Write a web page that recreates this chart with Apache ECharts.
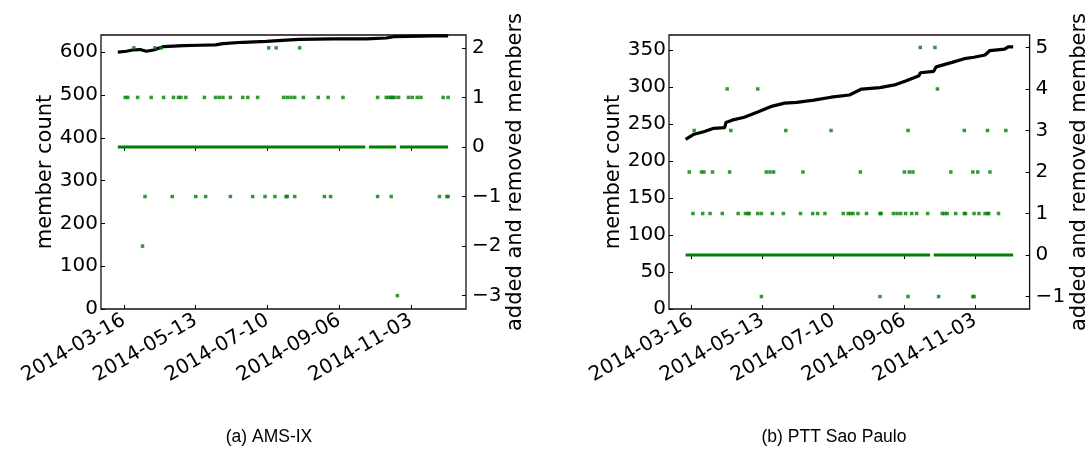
<!DOCTYPE html>
<html>
<head>
<meta charset="utf-8">
<script src="https://cdn.jsdelivr.net/npm/echarts@6/dist/echarts.min.js"></script>
<style>
  html, body { margin: 0; padding: 0; background: #fff; }
  #chart { width: 1091px; height: 460px; }
</style>
</head>
<body>
<div id="chart"></div>
<script>
// shared x range and tick labels
const xRange = ['2014-02-25 10:00', '2014-12-17 11:00'];
const tickDates = ['2014-03-16', '2014-05-13', '2014-07-10', '2014-09-06', '2014-11-03'];

// (a) AMS-IX
const amsCount = [
  ['2014-03-11', 600], ['2014-03-18', 602], ['2014-03-23', 605], ['2014-03-29', 606],
  ['2014-04-03', 602], ['2014-04-09', 605], ['2014-04-17', 613], ['2014-05-03', 615],
  ['2014-05-16', 616], ['2014-05-29', 617], ['2014-06-04', 620], ['2014-06-20', 623],
  ['2014-07-09', 625], ['2014-07-25', 628], ['2014-08-05', 630], ['2014-09-01', 631],
  ['2014-09-28', 631], ['2014-10-14', 633], ['2014-10-20', 636], ['2014-11-21', 638],
  ['2014-12-03', 638]
];
const amsZeroRuns = [['2014-03-11', '2014-09-27'], ['2014-09-30', '2014-10-22'], ['2014-10-25', '2014-12-03']];
const amsUp2 = ['2014-03-24', '2014-04-10', '2014-04-15', '2014-07-11', '2014-07-17', '2014-08-05'];
const amsUp1 = [
  '2014-03-17', '2014-03-19', '2014-03-27', '2014-04-07', '2014-04-17', '2014-04-25', '2014-04-29',
  '2014-05-01', '2014-05-05', '2014-05-20', '2014-05-29', '2014-06-01', '2014-06-04', '2014-06-10',
  '2014-06-20', '2014-06-24', '2014-07-02', '2014-07-23', '2014-07-26', '2014-07-29', '2014-08-01',
  '2014-08-08', '2014-08-20', '2014-08-28', '2014-09-09', '2014-10-07', '2014-10-14', '2014-10-16',
  '2014-10-18', '2014-10-19', '2014-10-21', '2014-10-24', '2014-11-01', '2014-11-04', '2014-11-08',
  '2014-11-11', '2014-11-29', '2014-12-03'
];
const amsDown1 = [
  '2014-04-02', '2014-04-24', '2014-05-13', '2014-05-21', '2014-06-10', '2014-06-28', '2014-07-08',
  '2014-07-16', '2014-07-25', '2014-07-26', '2014-08-01', '2014-08-25', '2014-08-30', '2014-10-07',
  '2014-10-18', '2014-11-26', '2014-12-02', '2014-12-03'
];
const amsDown2 = ['2014-03-31'];
const amsDown3 = ['2014-10-23'];

// (b) PTT Sao Paulo
const pttCount = [
  ['2014-03-11', 229], ['2014-03-18', 236], ['2014-03-25', 239], ['2014-03-27', 240],
  ['2014-04-03', 244], ['2014-04-12', 245], ['2014-04-13', 252], ['2014-04-18', 255],
  ['2014-04-28', 259], ['2014-05-09', 266], ['2014-05-21', 274], ['2014-05-31', 278],
  ['2014-06-10', 279], ['2014-06-24', 282], ['2014-07-08', 286], ['2014-07-23', 289],
  ['2014-08-02', 297], ['2014-08-17', 299], ['2014-08-30', 303], ['2014-09-07', 308],
  ['2014-09-18', 315], ['2014-09-19', 319], ['2014-09-30', 321], ['2014-10-02', 327],
  ['2014-10-15', 333], ['2014-10-25', 338], ['2014-11-02', 340], ['2014-11-11', 343],
  ['2014-11-15', 349], ['2014-11-27', 351], ['2014-11-30', 354], ['2014-12-04', 354]
];
const pttZeroRuns = [['2014-03-11', '2014-09-27'], ['2014-09-30', '2014-12-04']];
const pttUp5 = ['2014-09-19', '2014-10-01'];
const pttUp4 = ['2014-04-14', '2014-05-09', '2014-10-03'];
const pttUp3 = ['2014-03-18', '2014-04-17', '2014-06-01', '2014-07-08', '2014-09-09', '2014-10-25', '2014-11-13', '2014-11-28'];
const pttUp2 = [
  '2014-03-14', '2014-03-24', '2014-03-26', '2014-04-02', '2014-04-16', '2014-05-16', '2014-05-19',
  '2014-05-22', '2014-06-15', '2014-08-01', '2014-09-06', '2014-09-10', '2014-09-13', '2014-10-14',
  '2014-11-01', '2014-11-05', '2014-11-15'
];
const pttUp1 = [
  '2014-03-17', '2014-03-25', '2014-03-31', '2014-04-10', '2014-04-23', '2014-04-29', '2014-05-01',
  '2014-05-02', '2014-05-09', '2014-05-12', '2014-05-21', '2014-05-30', '2014-06-13', '2014-06-23',
  '2014-06-27', '2014-07-03', '2014-07-18', '2014-07-22', '2014-07-24', '2014-07-26', '2014-07-30',
  '2014-08-06', '2014-08-17', '2014-08-18', '2014-08-28', '2014-08-31', '2014-09-03', '2014-09-07',
  '2014-09-12', '2014-09-16', '2014-09-25', '2014-10-07', '2014-10-09', '2014-10-11', '2014-10-18',
  '2014-10-25', '2014-10-26', '2014-11-02', '2014-11-06', '2014-11-11', '2014-11-13', '2014-11-14',
  '2014-11-22'
];
const pttDown1 = ['2014-05-12', '2014-08-17', '2014-09-09', '2014-10-04', '2014-11-01', '2014-11-02'];

const amsCountTicks = [0, 100, 200, 300, 400, 500, 600];
const amsDiffTicks = [-3, -2, -1, 0, 1, 2];
const pttCountTicks = [0, 50, 100, 150, 200, 250, 300, 350];
const pttDiffTicks = [-1, 0, 1, 2, 3, 4, 5];

const GREEN = '#008000';
const FONT = 'DejaVu Sans';
// dates become plain timestamps on a value axis
const ts = s => +echarts.time.parse(s);
const tickTs = tickDates.map(ts);
const withTs = pts => pts.map(p => [ts(p[0]), p[1]]);

function xAxis(gridIndex, position) {
  const bottom = position === 'bottom';
  return {
    type: 'value', gridIndex, position,
    min: ts(xRange[0]), max: ts(xRange[1]),
    axisLine: { show: false },
    splitLine: { show: false },
    axisTick: { show: true, inside: true, length: 4, customValues: tickTs, lineStyle: { color: '#000' } },
    axisLabel: {
      show: bottom, customValues: tickTs, rotate: 30, margin: 10,
      fontSize: 20, fontFamily: FONT, color: '#000',
      formatter: v => echarts.time.format(v, '{yyyy}-{MM}-{dd}', false)
    }
  };
}

function yAxis(gridIndex, position, min, max, ticks, name, gap) {
  const left = position === 'left';
  return {
    type: 'value', gridIndex, position, min, max,
    name, nameLocation: 'middle', nameGap: gap, nameRotate: 90,
    nameTextStyle: { fontSize: 21, fontFamily: FONT, color: '#000' },
    axisLine: { show: false },
    splitLine: { show: false },
    axisTick: { show: true, inside: true, length: 4, customValues: ticks, lineStyle: { color: '#000' } },
    axisLabel: {
      customValues: ticks, margin: left ? 3 : 6,
      fontSize: 20, fontFamily: FONT, color: '#000',
      formatter: v => String(v).replace('-', '\u2212')
    }
  };
}

function panelSeries(xi, yLeft, yRight, counts, zeroRuns, changes) {
  const out = zeroRuns.map(r => ({
    type: 'line', xAxisIndex: xi, yAxisIndex: yRight,
    data: [[ts(r[0]), 0], [ts(r[1]), 0]],
    symbol: 'none', silent: true, z: 3,
    lineStyle: { color: GREEN, width: 3 }
  }));
  out.push({
    type: 'line', xAxisIndex: xi, yAxisIndex: yLeft,
    data: withTs(counts), symbol: 'none', silent: true, z: 2,
    lineStyle: { color: '#000', width: 3.2 }
  });
  out.push({
    type: 'scatter', xAxisIndex: xi, yAxisIndex: yRight,
    data: withTs(changes), symbol: 'rect', symbolSize: 3.5, silent: true, z: 4,
    itemStyle: { color: GREEN }
  });
  return out;
}

const tag = (dates, v) => dates.map(d => [d, v]);
const amsChanges = [].concat(tag(amsUp2, 2), tag(amsUp1, 1), tag(amsDown1, -1), tag(amsDown2, -2), tag(amsDown3, -3));
const pttChanges = [].concat(tag(pttUp5, 5), tag(pttUp4, 4), tag(pttUp3, 3), tag(pttUp2, 2), tag(pttUp1, 1), tag(pttDown1, -1));

const chart = echarts.init(document.getElementById('chart'), null, { renderer: 'canvas' });
chart.setOption({
  animation: false,
  backgroundColor: '#fff',
  grid: [
    { left: 101, top: 35, width: 365, height: 274, show: true, borderColor: '#111', borderWidth: 1.3 },
    { left: 669, top: 35, width: 365, height: 274, show: true, borderColor: '#111', borderWidth: 1.3 }
  ],
  xAxis: [xAxis(0, 'bottom'), xAxis(0, 'top'), xAxis(1, 'bottom'), xAxis(1, 'top')],
  yAxis: [
    yAxis(0, 'left', 0, 640, amsCountTicks, 'member count', 44),
    yAxis(0, 'right', -3.27, 2.26, amsDiffTicks, 'added and removed members', 37),
    yAxis(1, 'left', 0, 370, pttCountTicks, 'member count', 44),
    yAxis(1, 'right', -1.3, 5.3, pttDiffTicks, 'added and removed members', 36)
  ],
  series: [].concat(
    panelSeries(0, 0, 1, amsCount, amsZeroRuns, amsChanges),
    panelSeries(2, 2, 3, pttCount, pttZeroRuns, pttChanges)
  ),
  graphic: [
    { type: 'text', x: 269, y: 437, style: { text: '(a) AMS-IX', align: 'center', verticalAlign: 'middle', fontSize: 17.5, fontFamily: 'Liberation Sans', fill: '#000' } },
    { type: 'text', x: 834, y: 437, style: { text: '(b) PTT Sao Paulo', align: 'center', verticalAlign: 'middle', fontSize: 17.5, fontFamily: 'Liberation Sans', fill: '#000' } }
  ]
});
</script>
</body>
</html>
